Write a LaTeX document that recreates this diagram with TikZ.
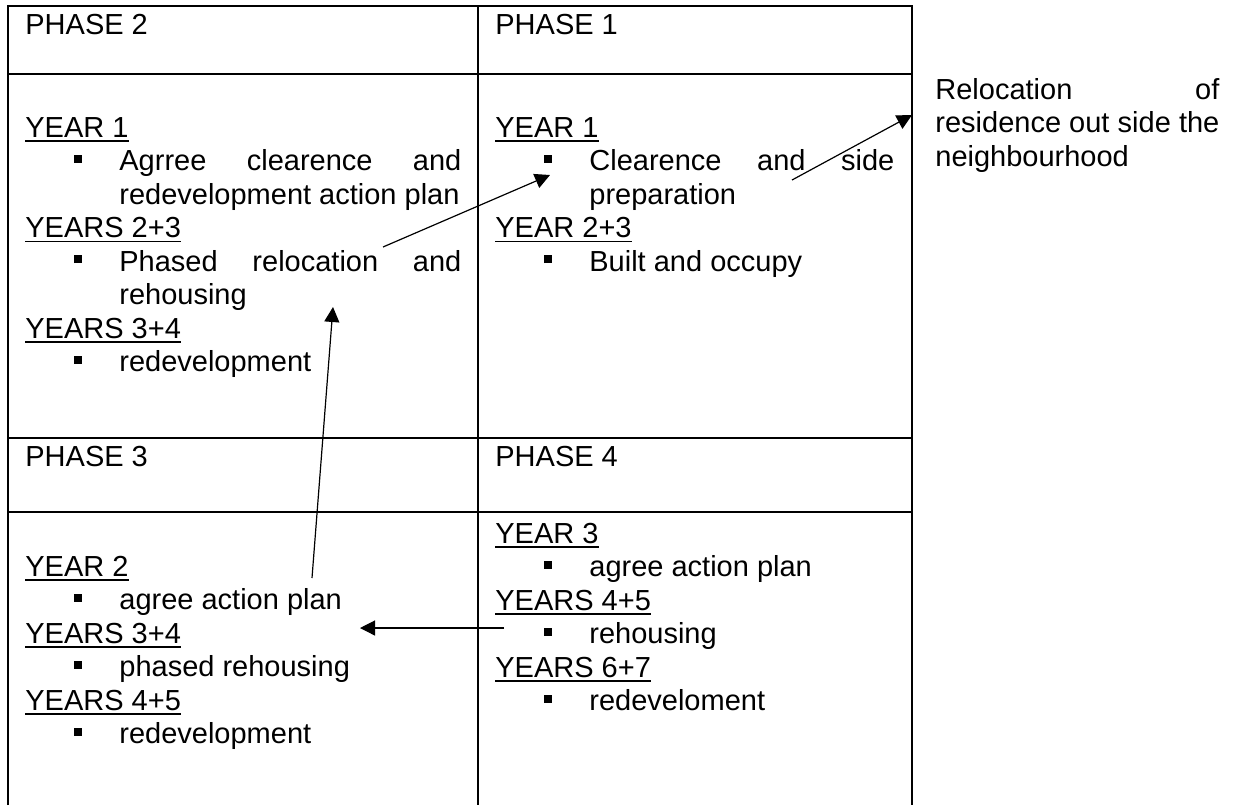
\documentclass[tikz,border=0pt]{standalone}
\usepackage{fontspec}
\setmainfont{Liberation Sans}
\usetikzlibrary{arrows.meta}

\newcommand{\yrhead}[1]{\setbox0\hbox{#1}\rlap{\rule[-2.4pt]{\wd0}{0.85pt}}\box0}
\newcommand{\sqbullet}{\makebox[47pt][l]{\hspace*{24.3pt}\rule[3.9pt]{4pt}{4pt}}}
\newcommand{\bitem}[1]{\sqbullet#1}
\newcommand{\bjust}[2]{\sqbullet\hbox to #1{#2}}
\newcommand{\bcont}[1]{\hspace*{47pt}#1}
\newcommand{\jline}[2]{\hbox to #1{#2}}

\begin{document}
\begin{tikzpicture}[
  x=0.5pt, y=-0.5pt,
  >={Triangle[length=7.5pt, width=7.5pt]},
  grid/.style={line width=0.9pt},
  conn/.style={->, line width=0.6pt},
  txt/.style={
    anchor=base west, inner sep=0pt,
    font=\fontsize{14.5pt}{16.75pt}\selectfont
  }
]
\useasboundingbox (0,0) rectangle (1242,805);

% --- Grade da tabela ---
\draw[grid] (8,805) -- (8,6) -- (912,6) -- (912,805);
\draw[grid] (478,6) -- (478,805);
\draw[grid] (8,74) -- (912,74);
\draw[grid] (8,438) -- (912,438);
\draw[grid] (8,512) -- (912,512);

% --- Cabecalhos das fases ---
\node[txt] (ph2) at (25,34) {PHASE 2};
\node[txt] (ph1) at (495,34) {PHASE 1};
\node[txt] (ph3) at (25,466) {PHASE 3};
\node[txt] (ph4) at (495,466) {PHASE 4};

% --- Fase 2 ---
\foreach \ln [count=\i from 0] in {
  {\yrhead{YEAR 1}}, {\bjust{171pt}{Agrree clearence and}},
  {\bcont{redevelopment action plan}}, {\yrhead{YEARS 2+3}},
  {\bjust{171pt}{Phased relocation and}}, {\bcont{rehousing}},
  {\yrhead{YEARS 3+4}}, {\bitem{redevelopment}}}
  \node[txt] (pa\i) at (25,137+33.5*\i) {\ln};

% --- Fase 1 ---
\foreach \ln [count=\i from 0] in {
  {\yrhead{YEAR 1}}, {\bjust{152.5pt}{Clearence and side}},
  {\bcont{preparation}}, {\yrhead{YEAR 2+3}}, {\bitem{Built and occupy}}}
  \node[txt] (pb\i) at (495,137+33.5*\i) {\ln};

% --- Fase 3 ---
\foreach \ln [count=\i from 0] in {
  {\yrhead{YEAR 2}}, {\bitem{agree action plan}},
  {\yrhead{YEARS 3+4}}, {\bitem{phased rehousing}},
  {\yrhead{YEARS 4+5}}, {\bitem{redevelopment}}}
  \node[txt] (pc\i) at (25,576+33.5*\i) {\ln};

% --- Fase 4 ---
\foreach \ln [count=\i from 0] in {
  {\yrhead{YEAR 3}}, {\bitem{agree action plan}},
  {\yrhead{YEARS 4+5}}, {\bitem{rehousing}},
  {\yrhead{YEARS 6+7}}, {\bitem{redeveloment}}}
  \node[txt] (pd\i) at (495,543+33.5*\i) {\ln};

% --- Texto de realocacao ---
\foreach \ln [count=\i from 0] in {
  {\jline{142pt}{Relocation of}}, {\jline{142pt}{residence out side the}},
  {neighbourhood}}
  \node[txt] (rel\i) at (935,99+33.5*\i) {\ln};

% --- Pontos das setas ---
\coordinate (a1s) at (383,247);
\coordinate (a1e) at (550,175);
\coordinate (a2s) at (792,180);
\coordinate (a2e) at (912,115);
\coordinate (a3s) at (312,578);
\coordinate (a3e) at (333,307);
\coordinate (a4s) at (504,628);
\coordinate (a4e) at (360,628);

% --- Setas ---
\draw[conn] (a1s) -- (a1e);
\draw[conn] (a2s) -- (a2e);
\draw[conn] (a3s) -- (a3e);
\draw[conn] (a4s) -- (a4e);

\end{tikzpicture}
\end{document}
